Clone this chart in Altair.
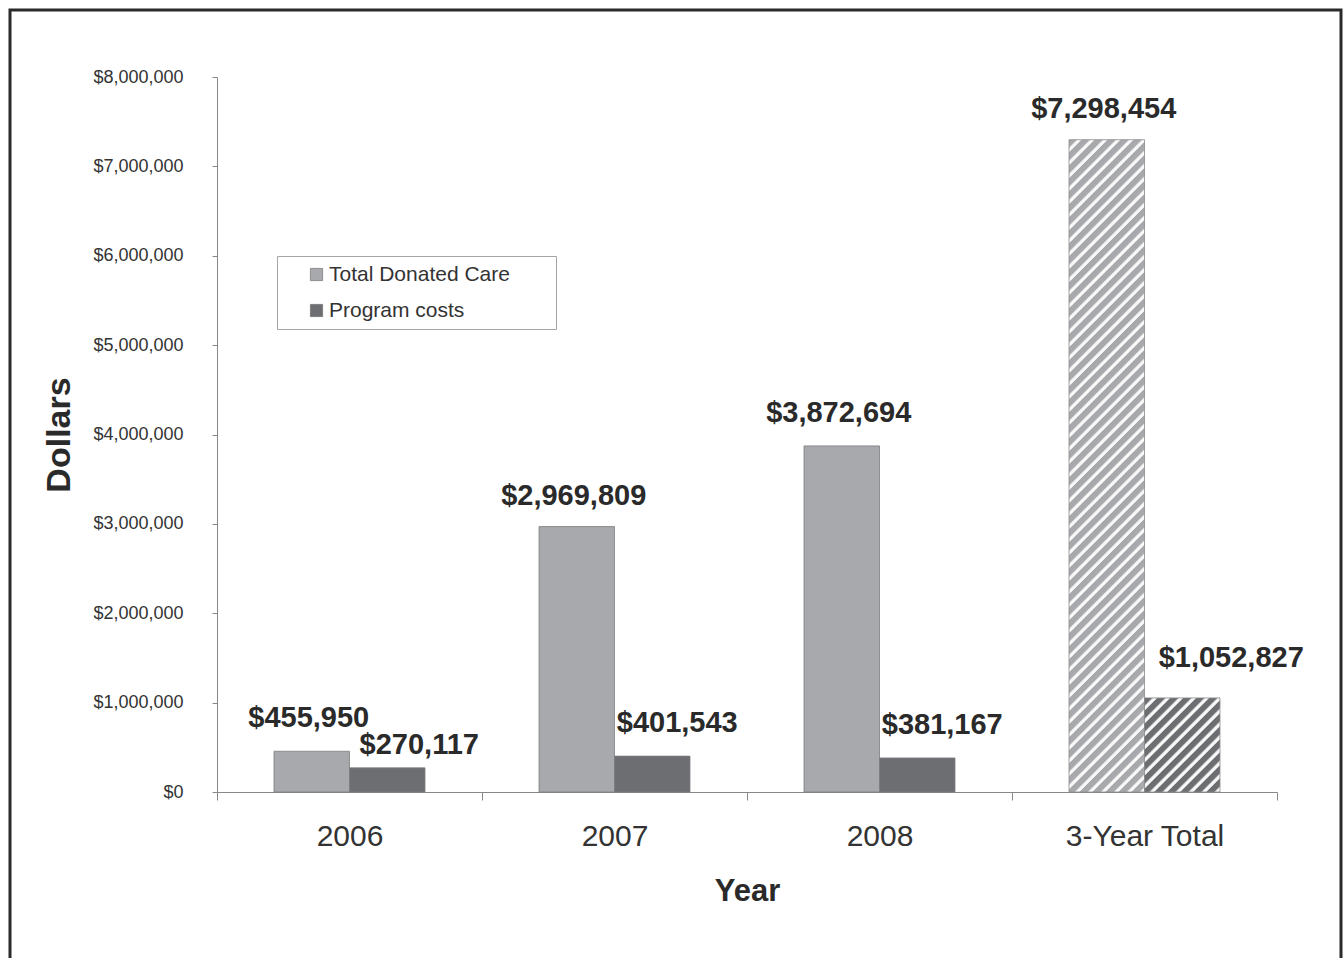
import altair as alt
import pandas as pd

# ---------------- data ----------------
categories = ["2006", "2007", "2008", "3-Year Total"]
series_names = ["Total Donated Care", "Program costs"]
donated_care = [455950, 2969809, 3872694, 7298454]
program_costs = [270117, 401543, 381167, 1052827]
y_ticks = [0, 1000000, 2000000, 3000000, 4000000, 5000000, 6000000, 7000000, 8000000]

rows = []
for cat, d, p in zip(categories, donated_care, program_costs):
    rows.append({"year": cat, "series": series_names[0], "value": d, "label": f"${d:,}"})
    rows.append({"year": cat, "series": series_names[1], "value": p, "label": f"${p:,}"})
df = pd.DataFrame(rows)

# ---------------- style ----------------
PLOT_W, PLOT_H = 1060, 715
Y_MAX = 8000000
LIGHT = "#a7a9ac"
DARK = "#6d6e71"
FONT = "Liberation Sans"
TEXT = "#2a2a2a"
OFFSET_PAD = 0.755
BAR_W = PLOT_W / len(categories) / (2 + 2 * OFFSET_PAD)
TOTAL = categories[-1]

# label nudges (dx, dy) per (year, series)
label_nudge = {
    ("2006", series_names[0]): (-3, -33),
    ("2006", series_names[1]): (32, -23),
    ("2007", series_names[0]): (-3, -31),
    ("2007", series_names[1]): (25, -33),
    ("2008", series_names[0]): (-3, -33),
    ("2008", series_names[1]): (25, -33),
    (TOTAL, series_names[0]): (-3, -31),
    (TOTAL, series_names[1]): (49, -40),
}


def mix(c1, c2, t):
    a = [int(c1[i:i + 2], 16) for i in (1, 3, 5)]
    b = [int(c2[i:i + 2], 16) for i in (1, 3, 5)]
    return "#" + "".join(f"{round(x + (y - x) * t):02x}" for x, y in zip(a, b))


def stripes(base, value, period=13.0, white_frac=0.38, soft=0.08):
    white = "#f8f8f8"
    mid = mix(base, white, 0.5)
    w = BAR_W
    h = value / Y_MAX * PLOT_H
    L = w + h
    d = w * w + h * h
    x2 = w * L / d
    y2 = h * L / d
    stops = []
    k = 0
    while k * period / L < 1:
        pts = [
            (0.0, base),
            (1 - white_frac - soft, base),
            (1 - white_frac, mid),
            (1 - white_frac + soft, white),
            (1 - soft, white),
            (1.0, mid),
        ]
        for f, col in pts:
            stops.append(alt.GradientStop(offset=min((k + f) * period / L, 1), color=col))
        k += 1
    return alt.LinearGradient(gradient="linear", stops=stops, x1=0, y1=0, x2=x2, y2=y2)


x_enc = alt.X(
    "year:N",
    sort=categories,
    scale=alt.Scale(domain=categories, paddingInner=0, paddingOuter=0),
    axis=alt.Axis(
        title="Year",
        labelAngle=0,
        tickBand="extent",
        tickSize=8,
        tickColor="#888",
        domainColor="#888",
        labelFont=FONT,
        labelFontSize=30,
        labelColor="#333",
        labelPadding=21,
        titleFont=FONT,
        titleFontSize=31,
        titleFontWeight="bold",
        titleColor=TEXT,
        titlePadding=25,
    ),
)
xoff_enc = alt.XOffset(
    "series:N",
    sort=series_names,
    scale=alt.Scale(domain=series_names, paddingInner=0, paddingOuter=OFFSET_PAD),
)
y_enc = alt.Y(
    "value:Q",
    scale=alt.Scale(domain=[0, Y_MAX], nice=False),
    axis=alt.Axis(
        values=y_ticks,
        format="$,.0f",
        title="Dollars",
        grid=False,
        tickSize=5,
        tickColor="#888",
        domainColor="#888",
        labelFont=FONT,
        labelFontSize=18,
        labelColor="#333",
        labelPadding=29,
        titleFont=FONT,
        titleFontSize=34,
        titleFontWeight="bold",
        titleColor=TEXT,
        titlePadding=16,
    ),
)

base = alt.Chart(df)

frame = alt.Chart(pd.DataFrame({"a": [0]})).mark_rect(
    fillOpacity=0, stroke="#2b2b2b", strokeWidth=3
).encode(
    x=alt.value(-207), x2=alt.value(1124), y=alt.value(-67), y2=alt.value(960)
)

year_bars = base.transform_filter(alt.datum.year != TOTAL).mark_bar(
    stroke="#7d7e80", strokeWidth=0.8
).encode(
    x=x_enc,
    xOffset=xoff_enc,
    y=y_enc,
    color=alt.Color(
        "series:N",
        sort=series_names,
        scale=alt.Scale(domain=series_names, range=[LIGHT, DARK]),
        legend=alt.Legend(
            title="\u00a0" * 8,
            titleOrient="right",
            titleFontSize=12,
            titlePadding=38,
            orient="none",
            legendX=60,
            legendY=179,
            strokeColor="#a5a5a5",
            fillColor="white",
            padding=8,
            symbolType="square",
            symbolSize=150,
            symbolStrokeColor="#666",
            symbolStrokeWidth=0.6,
            symbolOffset=21,
            labelOffset=2,
            labelLimit=500,
            labelFont=FONT,
            labelFontSize=21,
            labelColor="#333",
            rowPadding=14,
        ),
    ),
)

total_layers = []
for s, color, vals in [(series_names[0], LIGHT, donated_care), (series_names[1], DARK, program_costs)]:
    total_layers.append(
        base.transform_filter((alt.datum.year == TOTAL) & (alt.datum.series == s))
        .mark_bar(fill=stripes(color, vals[-1]), stroke="#8a8a8a", strokeWidth=0.8)
        .encode(x=x_enc, xOffset=xoff_enc, y=y_enc)
    )

label_layers = []
for (yr, s), (dx, dy) in label_nudge.items():
    label_layers.append(
        base.transform_filter((alt.datum.year == yr) & (alt.datum.series == s))
        .mark_text(
            font=FONT, fontSize=29, fontWeight="bold", color=TEXT,
            baseline="middle", align="center", dx=dx, dy=dy,
        )
        .encode(x=x_enc, xOffset=xoff_enc, y=y_enc, text="label:N")
    )

chart = alt.layer(frame, year_bars, *total_layers, *label_layers).properties(
    width=PLOT_W,
    height=PLOT_H,
    autosize=alt.AutoSizeParams(type="none"),
    padding={"left": 217, "top": 77, "right": 66, "bottom": 166},
    background="white",
).configure_view(stroke=None)

chart.save("out.html", embed_options={"renderer": "svg", "actions": False})
